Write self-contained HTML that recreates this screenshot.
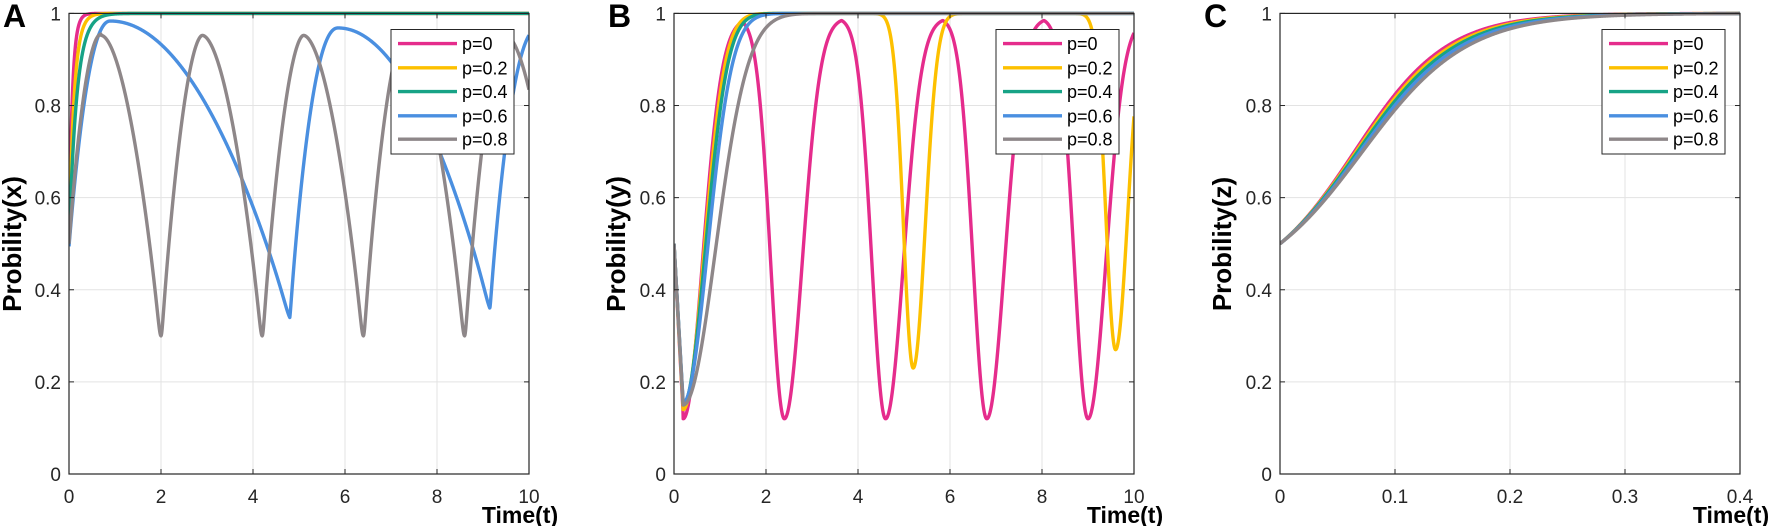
<!DOCTYPE html>
<html><head><meta charset="utf-8">
<style>
html,body{margin:0;padding:0;background:#fff;}
svg{display:block;}
text{font-family:"Liberation Sans",Arial,sans-serif;}
</style></head>
<body>
<svg id="s" width="1772" height="526" viewBox="0 0 1772 526" xmlns="http://www.w3.org/2000/svg"></svg>
<script>
const S=document.getElementById('s');
const COL=['#e52c8c','#fdc000','#17a386','#4a8fe0','#8e8789'];
const Y0=13.4,Y1=474;
let out='';
function panel(L,R,xmax,xt,xtl,ylab,letter,lx,ylx,series,legL){
  const X=t=>L+(R-L)*t/xmax, Y=v=>Y1-(Y1-Y0)*v;
  for(const t of xt){const x=X(t);out+=`<line x1="${x}" y1="${Y0}" x2="${x}" y2="${Y1}" stroke="#e3e3e3" stroke-width="1"/>`;}
  for(let v=0.2;v<1;v+=0.2){const y=Y(v);out+=`<line x1="${L}" y1="${y}" x2="${R}" y2="${y}" stroke="#e3e3e3" stroke-width="1"/>`;}
  out+=`<defs><clipPath id="c${letter}"><rect x="${L}" y="${Y0-2}" width="${R-L}" height="${Y1-Y0+4}"/></clipPath></defs><g clip-path="url(#c${letter})">`;
  series.forEach((f,i)=>{ if(!f)return; let d='';const N=1500;
    for(let k=0;k<=N;k++){const t=xmax*k/N;d+=(k?'L':'M')+X(t).toFixed(2)+' '+Y(f(t)).toFixed(2);}
    out+=`<path d="${d}" fill="none" stroke="${COL[i]}" stroke-width="3.4" stroke-linejoin="round"/>`;});
  out+='</g>';
  out+=`<rect x="${L}" y="${Y0}" width="${R-L}" height="${Y1-Y0}" fill="none" stroke="#262626" stroke-width="1.2"/>`;
  xt.forEach((t,i)=>{const x=X(t);out+=`<line x1="${x}" y1="${Y1}" x2="${x}" y2="${Y1-5}" stroke="#262626"/><line x1="${x}" y1="${Y0}" x2="${x}" y2="${Y0+5}" stroke="#262626"/>`;
    out+=`<text x="${x}" y="503" font-size="19" text-anchor="middle" fill="#262626">${xtl[i]}</text>`;});
  ['0','0.2','0.4','0.6','0.8','1'].forEach((s,i)=>{const y=Y(i*0.2);out+=`<line x1="${L}" y1="${y}" x2="${L+5}" y2="${y}" stroke="#262626"/><line x1="${R}" y1="${y}" x2="${R-5}" y2="${y}" stroke="#262626"/>`;
    out+=`<text x="${L-8}" y="${y+7}" font-size="19" text-anchor="end" fill="#262626">${s}</text>`;});
  out+=`<text x="${R-9}" y="523" font-size="23" font-weight="bold" text-anchor="middle" fill="#000">Time(t)</text>`;
  out+=`<text transform="translate(${ylx},244) rotate(-90)" font-size="26" font-weight="bold" text-anchor="middle" fill="#000">${ylab}</text>`;
  out+=`<text x="${lx}" y="27" font-size="32" font-weight="bold" fill="#000">${letter}</text>`;
  out+=`<rect x="${legL}" y="29.5" width="123" height="124.5" fill="#fff" stroke="#262626" stroke-width="1"/>`;
  const lab=['p=0','p=0.2','p=0.4','p=0.6','p=0.8'],ly=[43.6,67.8,91.6,115.8,139.2];
  lab.forEach((s,i)=>{out+=`<line x1="${legL+7}" y1="${ly[i]}" x2="${legL+66}" y2="${ly[i]}" stroke="${COL[i]}" stroke-width="3.4"/><text x="${legL+71}" y="${ly[i]+6.5}" font-size="18" fill="#000">${s}</text>`;});
}
const soft=(y,lo,e)=>{const d=y-lo;return lo+d*d/Math.sqrt(d*d+e*e);};
const rise=k=>t=>1-0.5*Math.exp(-k*t);
function blueA0(t){
  if(t<0.9){const u=t/0.9;return 0.5+0.485*(1-Math.pow(1-u,2.2));}
  if(t<4.8){const v=(t-0.9)/3.9;return 0.985-0.635*v*v;}
  if(t<5.85){const w=(t-4.8)/1.05;return 0.35+0.62*(1-Math.pow(1-w,2.2));}
  if(t<9.15){const v=(t-5.85)/3.3;return 0.97-0.6*v*v;}
  const w=(t-9.15)/1.05;return 0.37+0.6*(1-Math.pow(1-Math.min(w,1),2.2));
}
function blueA(t){const y=blueA0(t); return t<7.3?soft(y,0.335,0.045):soft(y,0.355,0.045);}
function grayA(t){
  const lo=0.30,hi=0.955;
  if(t<0.7){const u=t/0.7;return 0.5+0.455*(1-Math.pow(1-u,2));}
  const p=(t-0.7)%2.2;let y;
  if(p<1.3){const v=p/1.3;y=hi-(hi-lo)*Math.pow(v,1.8);}
  else{const w=(p-1.3)/0.9;y=lo+(hi-lo)*(1-Math.pow(1-w,1.8));}
  return soft(y,lo,0.06);
}
panel(69,529,10,[0,2,4,6,8,10],['0','2','4','6','8','10'],'Probility(x)','A',3,21,
  [rise(14),rise(9),rise(6),blueA,grayA],391);
const G=(t,c,s)=>Math.exp(-((t-c)*(t-c))/(2*s*s));
const GA=(t,c,sl,sr)=>G(t,c,t<c?sl:sr);
function startDip(t,lo,s){ if(t<0.2) return 0.5-(0.5-lo)*(t/0.2); return 1-(1-lo)*G(t,0.2,s);}
function pinkB(t){
  if(t<0.2) return 0.5-(0.5-0.13)*(t/0.2);
  let g=G(t,0.2,0.42);for(const c of [2.4,4.6,6.8,9.0])g=Math.max(g,GA(t,c,0.3,0.39));
  return 0.99-0.87*g;
}
function yelB(t){
  let y=startDip(t,0.14,0.45);
  y=Math.min(y,1-0.77*GA(t,5.2,0.21,0.26),1-0.73*GA(t,9.6,0.21,0.26));
  return y;
}
panel(674,1134,10,[0,2,4,6,8,10],['0','2','4','6','8','10'],'Probility(y)','B',608,625,
  [pinkB,yelB,t=>startDip(t,0.15,0.48),t=>startDip(t,0.155,0.53),t=>startDip(t,0.15,0.7)],996);
const lg=(k,t0)=>t=>{const L=x=>1/(1+Math.exp(-k*(x-t0)));const a=L(0);return 0.5+0.5*(L(t)-a)/(1-a);};
panel(1280,1740,0.4,[0,0.1,0.2,0.3,0.4],['0','0.1','0.2','0.3','0.4'],'Probility(z)','C',1204,1231,
  [lg(25,0.065),lg(24.2,0.066),lg(23.5,0.067),lg(22.8,0.069),lg(22,0.071)],1602);
S.innerHTML=out;
</script>
</body></html>
